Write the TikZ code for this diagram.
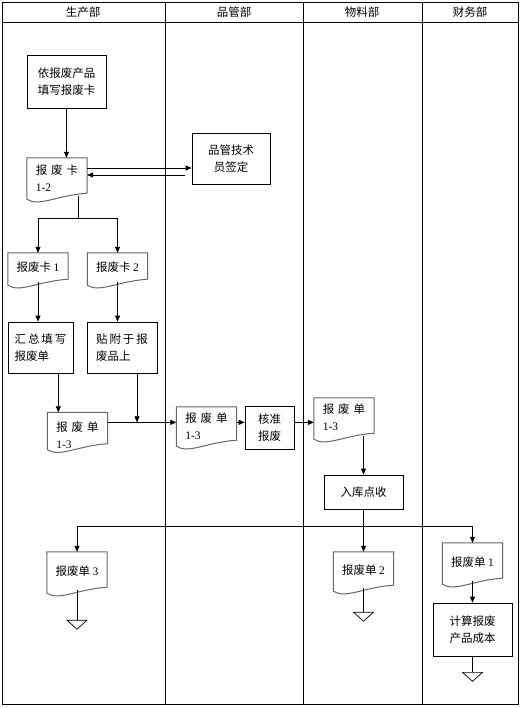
\documentclass[tikz,border=0pt]{standalone}
\usepackage{fontspec}
\setmainfont{Liberation Serif}
\newfontfamily\cjk{Noto Sans CJK SC}
\usetikzlibrary{arrows.meta,calc}
\newcommand\cgap{\hspace{4pt}}
% two-line document text, lowered inside its shape
\newcommand\doctext[2]{\raisebox{-#1}[\height][\depth]{\begin{tabular}{@{}l@{}}#2\end{tabular}}}

\begin{document}
\begin{tikzpicture}[
    x=1pt, y=-1pt,
    zh/.style={
      font={\cjk\fontsize{11.5}{17}\selectfont}
    },
    frame/.style={
      line width=0.8pt
    },
    proc/.style 2 args={
      zh,
      draw,
      line width=0.7pt,
      minimum width=#1,
      minimum height=#2,
      inner sep=1pt,
      align=center
    },
    doc/.style={
      zh,
      minimum width=60,
      minimum height=#1,
      inner sep=0pt,
      align=left
    },
    docline/.style={
      draw=black!60,
      line width=1pt
    },
    arr/.style={
      -{Triangle[length=6pt,width=5pt]},
      line width=0.7pt
    },
    endmark/.pic={
      \draw[line width=0.7pt] (-10,0) -- (10,0) -- (0,9) -- cycle;
    }
  ]

  \useasboundingbox (0,0) rectangle (520,708);

  % swim lanes
  \draw[frame] (2,2) rectangle (518,704);
  \draw[frame] (2,22) -- (518,22);
  \foreach \x in {165,303,422}
    \draw[frame] (\x,2) -- (\x,704);

  \node[zh] (lane1) at (83,12)  {生产部};
  \node[zh] (lane2) at (234,12) {品管部};
  \node[zh] (lane3) at (362,12) {物料部};
  \node[zh] (lane4) at (470,12) {财务部};

  % steps
  \node[proc={79}{53}] (fill) at (66.5,81.5) {依报废产品\\填写报废卡};
  \node[doc=38] (bk12) at (57,177) {\doctext{3pt}{报\cgap 废\cgap 卡\\{\rmfamily 1-2}}};
  \node[proc={78}{51}] (qc) at (231,158.5) {品管技术\\员签定};
  \node[doc=29] (bk1) at (38,267.5) {报废卡 {\rmfamily 1}};
  \node[doc=29] (bk2) at (117.5,267.5) {报废卡 {\rmfamily 2}};
  \node[proc={65}{51}, align=left] (sum) at (40.5,347.5) {汇\,总\,填\,写\\报废单};
  \node[proc={70}{51}, align=left] (tag) at (122,347.5) {贴\,附\,于\,报\\废品上};
  \node[doc=31] (bd13a) at (77.5,429.5) {\doctext{7pt}{报\cgap 废\cgap 单\\{\rmfamily 1-3}}};
  \node[doc=36] (bd13b) at (206.5,425) {\doctext{3pt}{报\cgap 废\cgap 单\\{\rmfamily 1-3}}};
  \node[proc={49}{43}] (ok) at (269.5,427.5) {核准\\报废};
  \node[doc=38] (bd13c) at (344,417) {\doctext{2pt}{报\cgap 废\cgap 单\\{\rmfamily 1-3}}};
  \node[proc={79}{34}] (recv) at (363.5,492) {入库点收};
  \node[doc=38] (bd3) at (77,571) {报废单 {\rmfamily 3}};
  \node[doc=36] (bd2) at (363.5,570) {报废单 {\rmfamily 2}};
  \node[doc=38] (bd1) at (472.5,562) {报废单 {\rmfamily 1}};
  \node[proc={79}{53}] (cost) at (472.5,629.5) {计算报废\\产品成本};

  % document outlines
  \foreach \d in {bk12,bk1,bk2,bd13a,bd13b,bd13c,bd3,bd2,bd1}
    \draw[docline] ($(\d.south west)+(0,3)$)
      .. controls ($(\d.south)+(-18,11)$) and ($(\d.south)+(0,-1)$) ..
      ($(\d.south east)+(0,-3)$) -- (\d.north east) -- (\d.north west) -- cycle;

  % helper points
  \path ([yshift=9pt]bk12.east) coordinate (toqc);
  \path ([yshift=2pt]bk12.east) coordinate (fromqc);
  \path (bk12.south) ++(21,22) coordinate (split);
  \path (bd13a.north west) ++(11,0) coordinate (fin);
  \path (tag.south) ++(15,49) coordinate (join);
  \path (recv.south) ++(0,17) coordinate (hub);
  \path (bd3.south) ++(0,30) coordinate (end3);
  \path (bd2.south) ++(0,24) coordinate (end2);
  \path (cost.south) ++(0,16) coordinate (end1);

  % flow
  \draw[arr] (fill.south) -- (fill.south |- bk12.north);
  \draw[arr] (toqc) -- (toqc -| qc.west);
  \draw[arr] (fromqc -| qc.west) ++(-7,0) -- (fromqc);
  \draw (split |- bk12.south) -- (split);
  \draw[arr] (split) -| (bk1.north);
  \draw[arr] (split) -| (bk2.north);
  \draw[arr] (bk1.south) -- (bk1.south |- sum.north);
  \draw[arr] (bk2.south) -- (bk2.south |- tag.north);
  \draw[arr] (fin |- sum.south) -- (fin);
  \draw[arr] (tag.south -| join) -- (join);
  \draw[arr] (bd13a.east |- join) -- (bd13b.west |- join);
  \draw[arr] (bd13b.east |- join) -- (ok.west |- join);
  \draw[arr] (ok.east |- join) -- (bd13c.west |- join);
  \draw[arr] (recv.north |- bd13c.south) -- (recv.north);
  \draw[arr] (recv.south) -- (bd2.north);
  \draw[arr] (hub) -| (bd3.north);
  \draw[arr] (hub) -| (bd1.north);
  \draw[arr] (bd1.south) -- (cost.north);

  % ends
  \draw[line width=0.7pt] (bd3.south) -- (end3);
  \draw[line width=0.7pt] (bd2.south) -- (end2);
  \draw[line width=0.7pt] (cost.south) -- (end1);
  \pic at (end3) {endmark};
  \pic at (end2) {endmark};
  \pic at (end1) {endmark};

\end{tikzpicture}
\end{document}
